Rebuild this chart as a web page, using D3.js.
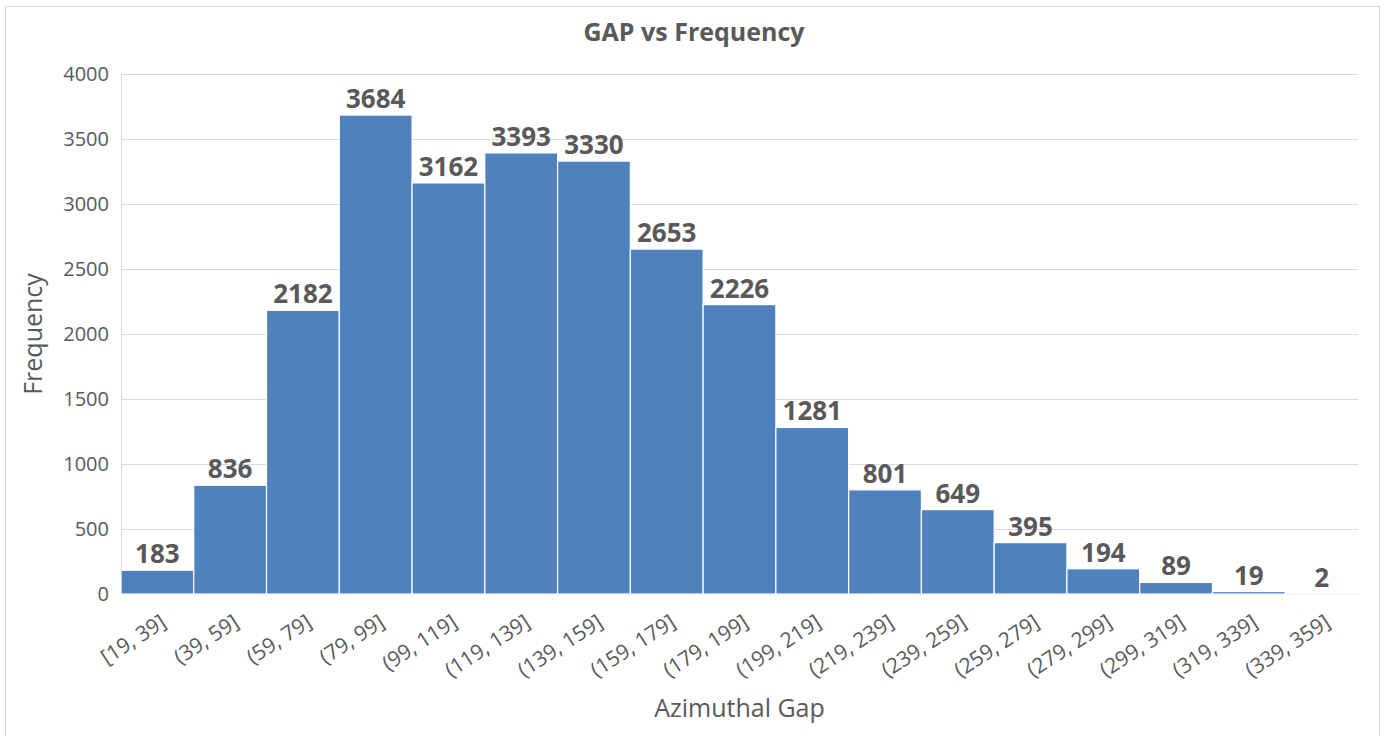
<!DOCTYPE html>
<html lang="en">
  <head>
    <meta charset="UTF-8" />
    <title>GAP vs Frequency</title>
    <style>
      body { margin: 0; background: #fff; }
      text { font-family: 'Open Sans', 'Liberation Sans', sans-serif; fill: #595959; }
    </style>
  </head>
  <body>
    <script src="https://d3js.org/d3.v7.min.js"></script>
    <script>
      const categories = ['[19, 39]', '(39, 59]', '(59, 79]', '(79, 99]', '(99, 119]', '(119, 139]',
        '(139, 159]', '(159, 179]', '(179, 199]', '(199, 219]', '(219, 239]', '(239, 259]',
        '(259, 279]', '(279, 299]', '(299, 319]', '(319, 339]', '(339, 359]']
      const frequency = [183, 836, 2182, 3684, 3162, 3393, 3330, 2653, 2226, 1281, 801, 649, 395, 194, 89, 19, 2]
      const yTicks = [0, 500, 1000, 1500, 2000, 2500, 3000, 3500, 4000]

      const width = 1387
      const height = 736
      const padding = { top: 74, bottom: 142, left: 121, right: 29 }

      const svg = d3.select('body').append('svg')
        .attr('width', width).attr('height', height)

      // chart border
      svg.append('rect')
        .attr('x', 5.5).attr('y', 6.5)
        .attr('width', 1374).attr('height', 740)
        .attr('fill', 'none').attr('stroke', '#d9d9d9')

      const x = d3.scaleBand()
        .domain(categories)
        .range([padding.left, width - padding.right])
        .padding(0)

      const y = d3.scaleLinear()
        .domain([0, 4000])
        .range([height - padding.bottom, padding.top])

      // gridlines
      svg.append('g')
        .selectAll('line')
        .data(yTicks)
        .join('line')
        .attr('x1', padding.left).attr('x2', width - padding.right)
        .attr('y1', d => Math.round(y(d)) + 0.5).attr('y2', d => Math.round(y(d)) + 0.5)
        .attr('stroke', '#d9d9d9').attr('stroke-width', 1)

      // left axis line
      svg.append('line')
        .attr('x1', padding.left + 0.5).attr('x2', padding.left + 0.5)
        .attr('y1', y(4000)).attr('y2', y(0))
        .attr('stroke', '#d9d9d9')

      // y tick labels
      const yAxis = g => g
        .attr('transform', `translate(${padding.left},0)`)
        .call(d3.axisLeft(y).tickValues(yTicks).tickFormat(d3.format('d')).tickSize(0).tickPadding(12))
        .call(g => g.select('.domain').remove())
        .call(g => g.selectAll('text')
          .attr('font-size', 20)
          .attr('font-family', null)
          .attr('fill', '#595959'))
      svg.append('g').call(yAxis)

      // bars
      svg.append('g')
        .selectAll('rect')
        .data(frequency)
        .join('rect')
        .attr('x', (d, i) => x(categories[i]))
        .attr('y', d => y(d))
        .attr('width', x.bandwidth())
        .attr('height', d => y(0) - y(d))
        .attr('fill', '#4f81bd')
        .attr('stroke', '#ffffff')
        .attr('stroke-width', 1.2)

      // data labels
      svg.append('g')
        .selectAll('text')
        .data(frequency)
        .join('text')
        .attr('x', (d, i) => x(categories[i]) + x.bandwidth() / 2)
        .attr('y', d => y(d) - 7)
        .attr('text-anchor', 'middle')
        .attr('font-size', 26)
        .attr('font-weight', 'bold')
        .text(d => d)

      // x tick labels
      svg.append('g')
        .selectAll('text')
        .data(categories)
        .join('text')
        .attr('transform', d => `translate(${x(d) + x.bandwidth() / 2 + 2},${y(0) + 19}) rotate(-33)`)
        .attr('text-anchor', 'end')
        .attr('dy', '0.72em')
        .attr('font-size', 21)
        .text(d => d)

      // title
      svg.append('text')
        .attr('x', 694).attr('y', 41)
        .attr('text-anchor', 'middle')
        .attr('font-size', 25)
        .attr('font-weight', 'bold')
        .text('GAP vs Frequency')

      // axis titles
      svg.append('text')
        .attr('x', (padding.left + width - padding.right) / 2).attr('y', 717)
        .attr('text-anchor', 'middle')
        .attr('font-size', 25)
        .text('Azimuthal Gap')

      svg.append('text')
        .attr('transform', `translate(42,${(y(0) + y(4000)) / 2}) rotate(-90)`)
        .attr('text-anchor', 'middle')
        .attr('font-size', 25)
        .text('Frequency')
    </script>
  </body>
</html>
